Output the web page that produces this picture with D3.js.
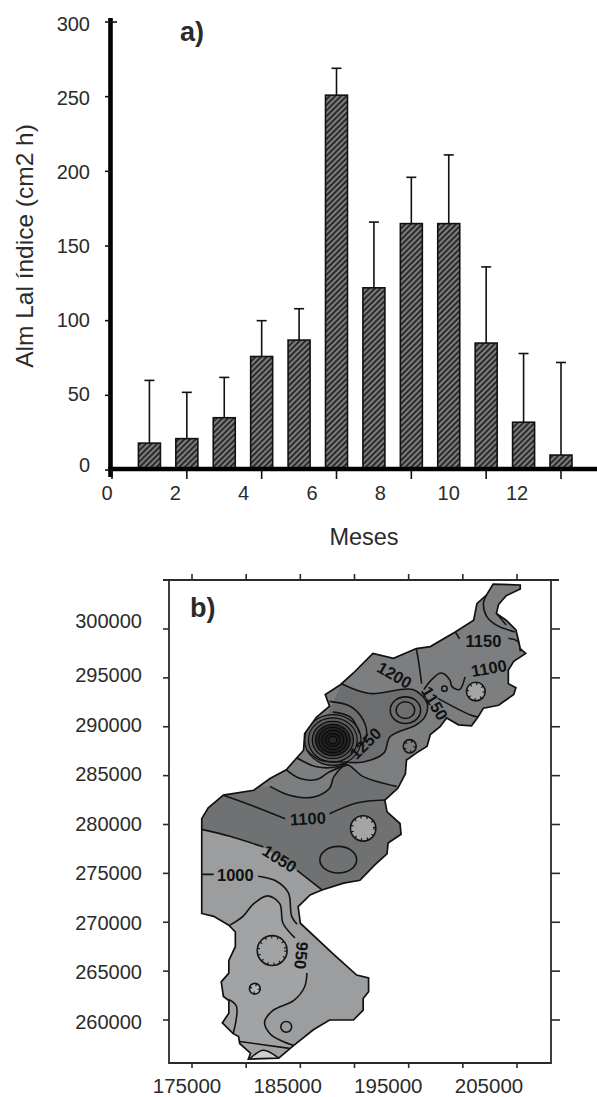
<!DOCTYPE html>
<html><head><meta charset="utf-8">
<script src="https://cdn.jsdelivr.net/npm/d3@7"></script>
<style>html,body{margin:0;padding:0;background:#fff}svg{display:block}text{font-family:"Liberation Sans",Arial,sans-serif;fill:#2b2b2b}</style>
</head><body><div id="c"></div>
<script>
// ---- panel a) data
const months = [1,2,3,4,5,6,7,8,9,10,11,12];
const alm = [18,21,35,76,87,251,122,165,165,85,32,10];
const almTop = [60,52,62,100,108,269,166,196,211,136,78,72];
const yTicksA = [0,50,100,150,200,250,300];
const xTicksA = [0,2,4,6,8,10,12];
const xLabelsA = [0,2,4,6,8,10,12];
// ---- panel b) data, easting / northing in km
const outline = [[202.8,304.6],[205.3,304.5],[205.3,304.1],[204.0,303.4],[203.3,302.5],[203.1,301.6],[204.0,300.9],[204.9,299.9],[205.1,299.0],[205.3,298.0],[205.8,297.5],[204.7,296.7],[204.2,295.8],[204.2,294.4],[204.9,294.0],[204.7,293.3],[203.3,292.2],[201.9,291.9],[201.4,291.0],[200.8,290.1],[199.6,290.2],[198.5,290.9],[197.9,290.0],[197.0,289.2],[196.7,288.0],[195.7,287.3],[194.8,286.6],[194.7,285.2],[194.0,283.7],[192.8,282.5],[193.0,281.3],[194.2,280.1],[194.3,279.0],[193.1,278.1],[193.0,277.0],[191.9,275.9],[190.5,274.3],[189.0,274.0],[187.0,273.3],[185.9,272.8],[184.8,271.6],[185.0,269.9],[188.0,266.8],[190.2,264.6],[191.3,264.3],[191.3,262.9],[190.8,262.2],[190.8,261.0],[189.9,260.0],[187.7,260.0],[186.2,259.0],[184.4,257.4],[183.0,256.1],[180.2,256.0],[180.4,256.6],[179.4,257.6],[179.3,258.3],[178.8,258.6],[177.8,259.7],[178.4,260.7],[178.4,262.0],[177.9,262.4],[177.7,263.9],[178.4,264.8],[178.4,266.1],[179.0,267.5],[179.0,269.0],[178.4,269.7],[177.0,270.6],[175.9,270.9],[175.9,280.6],[176.5,281.7],[177.9,283.0],[180.7,283.5],[182.2,284.7],[183.7,285.6],[185.3,287.6],[185.4,289.3],[186.5,291.0],[187.7,292.1],[187.3,293.3],[188.7,294.3],[189.9,295.5],[191.7,297.5],[193.6,297.0],[195.7,298.0],[197.0,298.2],[199.3,299.7],[201.0,300.9],[201.3,302.6],[202.2,303.5]];
const line1050a = [[175.9,279.5],[178.5,278.8],[181.6,277.7]];
const line1050b = [[184.7,275.3],[187.0,273.3]];
const line1000a = [[175.9,274.9],[177.0,274.9]];
const line1000b = [[181.1,274.7],[182.8,274.2],[183.9,273.0],[184.2,270.6],[184.7,269.8]];
const line950a = [[178.5,269.7],[179.7,270.6],[180.7,271.9],[182.0,272.7],[183.1,271.9],[183.4,269.9],[184.5,268.4]];
const line950b = [[185.6,264.8],[185.4,263.4],[184.4,262.0],[182.5,261.0],[181.7,259.8],[182.2,258.6],[183.4,257.8],[184.4,257.4]];
const lineSW = [[178.4,262.1],[179.1,261.4],[178.8,258.6]];
const lineS = [[179.4,257.8],[184.0,257.1]];
const capS = [[180.4,256.1],[181.6,256.9],[183.0,256.1]];
const line1100a = [[177.9,283.0],[180.4,282.0],[183.6,280.6]];
const line1100b = [[187.7,281.1],[190.2,282.2],[192.8,282.5]];
const arcK1 = [[187.7,292.6],[189.6,292.1],[190.8,290.7],[191.1,289.0],[190.5,288.0]];
const arcK2 = [[188.0,291.5],[189.6,291.0],[190.5,289.3]];
const arcK3 = [[185.6,287.6],[186.8,286.6],[189.0,286.4]];
const arcK4 = [[184.7,286.8],[186.5,285.9],[188.4,285.9],[189.3,286.3]];
const arcK5 = [[183.7,285.6],[185.0,284.7],[186.5,284.6],[187.7,285.4],[189.3,286.1]];
const arcK6 = [[182.2,283.9],[184.0,283.0],[186.2,282.8],[187.7,283.7],[188.1,284.9],[189.3,286.1],[190.8,284.9],[193.9,283.9]];
const arcK7 = [[188.8,294.4],[191.4,293.4],[195.4,293.8],[196.7,292.4],[196.5,291.0],[195.7,290.2],[193.3,289.0],[192.7,287.3],[190.8,286.4],[189.0,286.4]];
const line1200 = [[195.7,298.0],[195.9,296.8],[196.2,294.4]];
const line1150 = [[197.7,292.9],[200.7,291.2],[201.4,291.0]];
const loopNE = [[196.4,293.8],[197.1,294.8],[198.0,295.5],[198.8,294.8],[199.0,294.1],[199.7,293.8],[200.2,295.1]];
const stubA = [[199.3,299.7],[199.7,299.0]];
const stubB = [[204.2,299.05],[205.1,298.7],[205.3,297.7]];
const tipA = [[202.2,303.5],[201.9,302.6],[202.2,301.3],[203.1,300.4],[204.8,299.7]];
const tipB = [[203.1,301.6],[204.0,300.4]];
const contourLines = [line1050a,line1050b,line1000a,line1000b,line950a,line950b,lineSW,lineS,line1100a,line1100b,arcK1,arcK2,arcK3,arcK4,arcK5,arcK6,arcK7,line1200,line1150,loopNE,stubA,stubB,tipA,tipB];
// hub: centre and radii (km) of the concentric peak
const hubCentre = [188.0,288.65];
const hubRadii = [2.6,2.25,1.9,1.6,1.3,1.0,0.68,0.37];
const hubFills = ["#636567","#5c5e60","#4c4d4f","#262728","#232425","#202122","#1d1e1f","#282929"];
// closed depressions: E, N, rx, ry
const plainRings = [[188.5,276.4,1.7,1.36],[194.7,291.7,1.4,1.36],[194.7,291.7,0.86,0.85],[198.3,293.9,0.25,0.27],[183.7,259.3,0.5,0.55]];
const hachured = [[190.8,279.6,1.17,1.3,"#a3a5a7"],[201.2,293.6,0.87,0.95,"#a3a5a7"],[195.1,288.0,0.6,0.68,"none"],[182.4,267.1,1.38,1.53,"none"],[180.8,263.2,0.5,0.55,"#b4b6b8"]];
const contourLabels = [["1200",193.7,295.3,30],["1150",197.4,292.4,60],["1250",191.0,288.3,-45],["1100",185.7,280.6,-3],["1100",202.4,296.0,-10],["1150",201.9,298.8,0],["1050",183.1,276.5,32],["1000",179.0,274.8,0],["950",185.1,266.6,95]];
const xTicksB = [175,180,185,190,195,200,205];
const yTicksB = [300,295,290,285,280,275,270,265,260];
const xLabelsB = [175000,185000,195000,205000];
const yLabelsB = [300000,295000,290000,285000,280000,275000,270000,265000,260000];

const svg = d3.select("#c").append("svg").attr("width",597).attr("height",1097);
const defs = svg.append("defs");
const pat = defs.append("pattern").attr("id","hatch").attr("patternUnits","userSpaceOnUse")
  .attr("width",4).attr("height",4).attr("patternTransform","rotate(45)");
pat.append("rect").attr("width",4).attr("height",4).attr("fill","#7b7d7f");
pat.append("line").attr("x1",1).attr("x2",1).attr("y1",0).attr("y2",4).attr("stroke","#1c1c1c").attr("stroke-width",1.7);

// ---------- panel a
const xA = d3.scaleLinear().domain([0,12]).range([112,561]);
const xLabA = d3.scaleLinear().domain([0,12]).range([107,517]);
const yA = d3.scaleLinear().domain([0,300]).range([470,22]);
const yLabA = d3.scaleLinear().domain([0,50,300]).range([465,394,24]);
const a = svg.append("g");
const eb = a.selectAll(".eb").data(months).join("g");
eb.append("line").attr("x1",d=>xA(d)).attr("x2",d=>xA(d)).attr("y1",(d,i)=>yA(alm[i])).attr("y2",(d,i)=>yA(almTop[i])).attr("stroke","#111").attr("stroke-width",1.6);
eb.append("line").attr("x1",d=>xA(d)-5).attr("x2",d=>xA(d)+5).attr("y1",(d,i)=>yA(almTop[i])).attr("y2",(d,i)=>yA(almTop[i])).attr("stroke","#111").attr("stroke-width",1.6);
a.selectAll(".bar").data(months).join("rect")
  .attr("x",d=>xA(d)-11).attr("width",22).attr("y",(d,i)=>yA(alm[i])).attr("height",(d,i)=>yA(0)-yA(alm[i]))
  .attr("fill","url(#hatch)").attr("stroke","#111").attr("stroke-width",1.6);
a.append("line").attr("x1",110.5).attr("x2",110.5).attr("y1",18).attr("y2",477).attr("stroke","#000").attr("stroke-width",4.6);
a.append("line").attr("x1",108).attr("x2",597).attr("y1",469).attr("y2",469).attr("stroke","#000").attr("stroke-width",4.6);
a.selectAll(".yt").data(yTicksA).join("line").attr("x1",105).attr("x2",d=>d===300?117:110).attr("y1",d=>yA(d)).attr("y2",d=>yA(d)).attr("stroke","#111").attr("stroke-width",1.6);
a.selectAll(".xt").data(xTicksA).join("line").attr("x1",d=>xA(d)).attr("x2",d=>xA(d)).attr("y1",469).attr("y2",479).attr("stroke","#111").attr("stroke-width",1.6);
a.selectAll(".yl").data(yTicksA).join("text").attr("x",90).attr("y",d=>yLabA(d)).attr("dy","0.35em").attr("text-anchor","end").attr("font-size",20).text(d=>d);
a.selectAll(".xl").data(xLabelsA).join("text").attr("x",d=>xLabA(d)).attr("y",500).attr("text-anchor","middle").attr("font-size",20).text(d=>d);
a.append("text").attr("transform","translate(33,246) rotate(-90)").attr("text-anchor","middle").attr("font-size",24.5).text("Alm Lal índice (cm2 h)");
a.append("text").attr("x",364).attr("y",545).attr("text-anchor","middle").attr("font-size",23.5).text("Meses");
a.append("text").attr("x",180).attr("y",41).attr("font-size",27).attr("font-weight","bold").text("a)");

// ---------- panel b
const xB = d3.scaleLinear().domain([175,205]).range([192,517]);
const yB = d3.scaleLinear().domain([300,260]).range([629,1020]);
const xLabB = d3.scaleLinear().domain([175000,205000]).range([187,489]);
const yLabB = d3.scaleLinear().domain([300000,295000,260000]).range([621,675,1022]);
const b = svg.append("g");
const ln = d3.line().x(d=>xB(d[0])).y(d=>yB(d[1]));
const smooth = d3.line().x(d=>xB(d[0])).y(d=>yB(d[1])).curve(d3.curveCatmullRom.alpha(0.5));
defs.append("clipPath").attr("id","clipMap").append("path").attr("d",ln(outline)+"Z");
const m = b.append("g").attr("clip-path","url(#clipMap)");
const west=170, east=210, south=250, north=310;
m.append("rect").attr("x",xB(west)).attr("y",yB(north)).attr("width",xB(east)-xB(west)).attr("height",yB(south)-yB(north)).attr("fill","#7c7e80");
m.append("path").attr("fill","#6f7173").attr("d",ln([[west,279.5],...line1050a,...line1050b,[east,273.3],[east,283.9],...arcK6.slice().reverse(),[west,283.9]])+"Z");
m.append("path").attr("fill","#9b9d9f").attr("d",ln([[west,279.5],...line1050a,...line1050b,[east,273.3],[east,south],[west,south]])+"Z");
m.append("path").attr("fill","#a1a3a5").attr("d",smooth([[west,270],...line950a,...line950b])+`L${xB(east)},${yB(257)}L${xB(east)},${yB(south)}L${xB(west)},${yB(south)}Z`);
m.append("path").attr("fill","#cfd0d1").attr("d",smooth(capS)+"Z");
m.append("path").attr("fill","#6c6e70").attr("d",smooth(arcK7)+`L${xB(187)},${yB(290)}Z`);
const cx=xB(hubCentre[0]), cy=yB(hubCentre[1]), kx=xB(1)-xB(0), ky=yB(0)-yB(1);
m.selectAll(".hub").data(hubRadii).join("ellipse").attr("cx",cx).attr("cy",cy).attr("rx",d=>d*kx).attr("ry",d=>d*ky)
  .attr("fill",(d,i)=>hubFills[i]).attr("stroke","#0c0c0c").attr("stroke-width",1.2);
m.selectAll(".cl").data(contourLines).join("path").attr("d",d=>smooth(d)).attr("fill","none").attr("stroke","#141414").attr("stroke-width",1.6);
m.append("path").attr("d",smooth(capS)).attr("fill","none").attr("stroke","#141414").attr("stroke-width",1.6);
m.selectAll(".pr").data(plainRings).join("ellipse").attr("cx",d=>xB(d[0])).attr("cy",d=>yB(d[1])).attr("rx",d=>d[2]*kx).attr("ry",d=>d[3]*ky).attr("fill","none").attr("stroke","#141414").attr("stroke-width",1.6);
m.selectAll(".ha").data(hachured).join("ellipse").attr("cx",d=>xB(d[0])).attr("cy",d=>yB(d[1])).attr("rx",d=>d[2]*kx).attr("ry",d=>d[3]*ky).attr("fill",d=>d[4]).attr("stroke","#141414").attr("stroke-width",1.6);
m.selectAll(".hb").data(hachured).join("ellipse").attr("cx",d=>xB(d[0])).attr("cy",d=>yB(d[1])).attr("rx",d=>Math.max(d[2]*kx-1.5,1)).attr("ry",d=>Math.max(d[3]*ky-1.5,1)).attr("fill","none").attr("stroke","#141414").attr("stroke-width",2.5).attr("stroke-dasharray","1.2 5");
b.append("path").attr("d",ln(outline)+"Z").attr("fill","none").attr("stroke","#111").attr("stroke-width",1.7);
b.selectAll(".lab").data(contourLabels).join("text")
  .attr("transform",d=>`translate(${xB(d[1])},${yB(d[2])}) rotate(${d[3]})`)
  .attr("text-anchor","middle").attr("dy","0.36em").attr("font-size",16.5).attr("font-weight","bold").style("fill","#111").text(d=>d[0]);
const fx0=169, fx1=551, fy0=580, fy1=1063;
b.append("path").attr("d",`M163,${fy0}H559M${fx0},${fy0}V${fy1}H${fx1}V${fy0}`).attr("fill","none").attr("stroke","#2a2a2a").attr("stroke-width",1.8);
b.selectAll(".t1").data(xTicksB).join("line").attr("x1",d=>xB(d)).attr("x2",d=>xB(d)).attr("y1",574).attr("y2",fy0).attr("stroke","#2a2a2a").attr("stroke-width",1.6);
b.selectAll(".t2").data(xTicksB).join("line").attr("x1",d=>xB(d)).attr("x2",d=>xB(d)).attr("y1",fy1).attr("y2",fy1+5).attr("stroke","#2a2a2a").attr("stroke-width",1.6);
b.selectAll(".t3").data(yTicksB).join("line").attr("x1",163).attr("x2",fx0).attr("y1",d=>yB(d)).attr("y2",d=>yB(d)).attr("stroke","#2a2a2a").attr("stroke-width",1.6);
b.selectAll(".t4").data(yTicksB).join("line").attr("x1",fx1).attr("x2",560).attr("y1",d=>yB(d)).attr("y2",d=>yB(d)).attr("stroke","#2a2a2a").attr("stroke-width",1.6);
b.selectAll(".yb").data(yLabelsB).join("text").attr("x",142).attr("y",d=>yLabB(d)).attr("dy","0.35em").attr("text-anchor","end").attr("font-size",20).text(d=>d);
b.selectAll(".xb").data(xLabelsB).join("text").attr("x",d=>xLabB(d)).attr("y",1092.5).attr("text-anchor","middle").attr("font-size",20.5).text(d=>d);
b.append("text").attr("x",190).attr("y",617).attr("font-size",27).attr("font-weight","bold").text("b)");
</script></body></html>
